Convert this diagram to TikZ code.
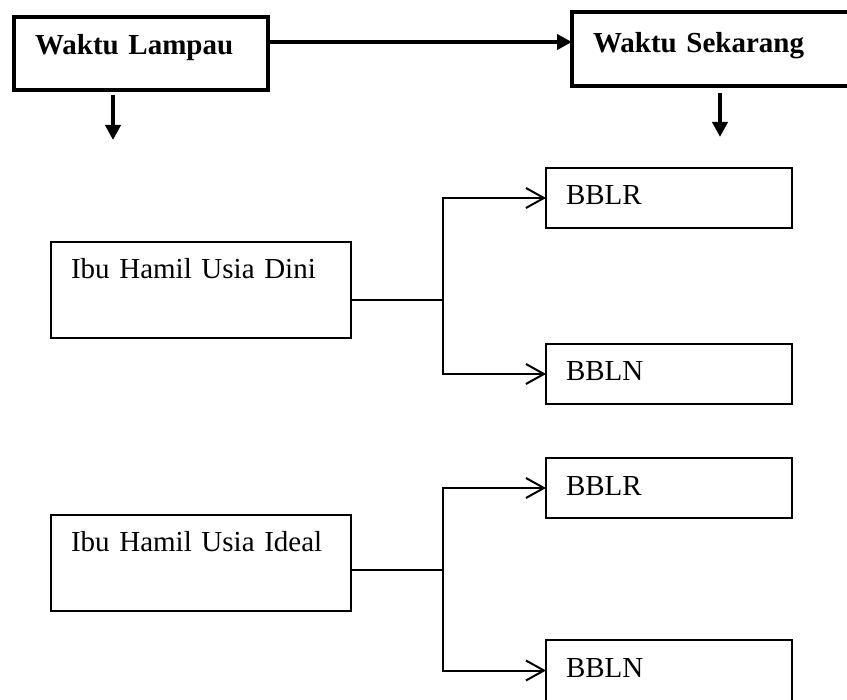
\documentclass[tikz,border=0pt]{standalone}
\usepackage{fontspec}
\setmainfont{Liberation Serif}
\usetikzlibrary{positioning,arrows.meta}

\begin{document}
\begin{tikzpicture}[x=0.5pt, y=-0.5pt]
    \tikzset{
      timebox/.style = {rectangle, draw=black, line width=2pt, outer sep=0pt, anchor=north west, inner xsep=10.5pt, inner ysep=0pt, align=left, font=\fontsize{14.5}{17}\selectfont\bfseries},
      agebox/.style = {rectangle, draw=black, line width=0.6pt, outer sep=0pt, anchor=north west, inner xsep=10pt, inner ysep=0pt, text width=130pt, text height=18.5pt, text depth=29.5pt, align=left, font=\fontsize{14.5}{17}\selectfont},
      bblbox/.style = {rectangle, draw=black, line width=0.6pt, outer sep=0pt, anchor=north west, inner xsep=10pt, inner ysep=0pt, text width=103pt, text height=18.5pt, text depth=11.5pt, align=left, font=\fontsize{14.5}{17}\selectfont},
      thickarrow/.style = {line width=2pt, -{Triangle[length=7.5pt, width=7.5pt]}},
      branch/.style = {line width=1pt},
      brancharrow/.style = {line width=1pt, -{Straight Barb[length=9pt, width=10pt]}}
    }
    \clip (0,0) rectangle (847,700);

    % waktu
    \node (lampau) [timebox, text width=106pt, text height=19pt, text depth=17.5pt] at (14,17) {Waktu Lampau};
    \node (sekarang) [timebox, text width=128pt, text height=20.5pt, text depth=16.5pt] at (572,12) {Waktu Sekarang};
    \coordinate (lampaudown) at (113,140);
    \coordinate (sekarangdown) at (720,137);

    % ibu hamil
    \node (dini) [agebox] at (51,242) {Ibu Hamil Usia Dini};
    \node (ideal) [agebox] at (51,515) {Ibu Hamil Usia Ideal};

    % bayi
    \node (bblr1) [bblbox] at (546,168) {BBLR};
    \node (bbln1) [bblbox] at (546,344) {BBLN};
    \node (bblr2) [bblbox] at (546,458) {BBLR};
    \node (bbln2) [bblbox, text depth=16pt] at (546,640) {BBLN};

    \draw [thickarrow] ([yshift=5.75pt]lampau.east) -- ([yshift=5.75pt]lampau.east -| sekarang.west);
    \draw [thickarrow] ([xshift=-14pt, yshift=-2.5pt]lampau.south) -- (lampaudown);
    \draw [thickarrow] ([xshift=74pt, yshift=-3.5pt]sekarang.south west) -- (sekarangdown);

    \draw [branch] ([yshift=-5pt]dini.east) -- ++(46pt,0) coordinate (dinifork);
    \draw [brancharrow] (dinifork) |- (bblr1.west);
    \draw [brancharrow] (dinifork) |- (bbln1.west);

    \draw [branch] ([yshift=-3.5pt]ideal.east) -- ++(46pt,0) coordinate (idealfork);
    \draw [brancharrow] (idealfork) |- (bblr2.west);
    \draw [brancharrow] (idealfork) |- ([yshift=2pt]bbln2.west);
\end{tikzpicture}
\end{document}
